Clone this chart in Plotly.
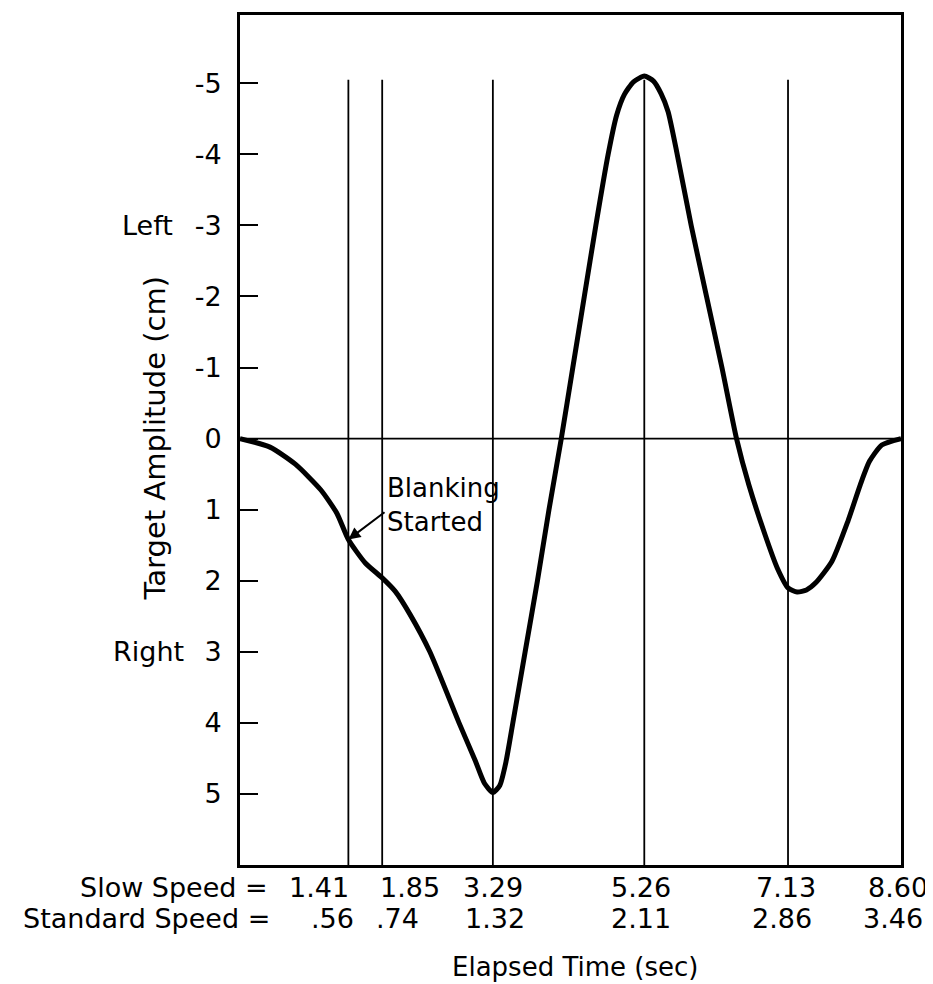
import plotly.graph_objects as go

# ---- data ----
time_s = [0, 0.39, 0.72, 1.05, 1.26, 1.41, 1.63, 1.85, 2.02, 2.21, 2.47, 2.85, 3.06, 3.18, 3.29,
          3.38, 3.46, 3.55, 3.71, 3.87, 4.02, 4.18, 4.33, 4.48, 4.63, 4.79, 4.90, 5.00,
          5.12, 5.26, 5.38, 5.48, 5.57, 5.67, 5.87, 6.07, 6.27, 6.46, 6.62, 6.83, 6.99, 7.13,
          7.25, 7.37, 7.49, 7.70, 7.91, 8.07, 8.19, 8.35, 8.60]
amp_cm = [0, 0.12, 0.36, 0.72, 1.05, 1.42, 1.75, 1.96, 2.15, 2.47, 3.0, 4.0, 4.53, 4.85, 4.98,
          4.88, 4.55, 4.0, 3.0, 2.0, 1.0, 0, -1, -2, -3, -4, -4.55, -4.84,
          -5.02, -5.1, -5.03, -4.85, -4.6, -4.1, -3.0, -2.0, -1.0, 0, 0.65, 1.35, 1.82, 2.1,
          2.16, 2.13, 2.03, 1.73, 1.16, 0.65, 0.32, 0.09, 0]

slow_speed = [1.41, 1.85, 3.29, 5.26, 7.13, 8.60]
slow_labels = ["1.41", "1.85", "3.29", "5.26", "7.13", "8.60"]
standard_labels = [".56", ".74", "1.32", "2.11", "2.86", "3.46"]
y_tick_vals = [-5, -4, -3, -2, -1, 0, 1, 2, 3, 4, 5]
y_tick_text = ["-5", "-4", "-3", "-2", "-1", "0", "1", "2", "3", "4", "5"]
blank_time, blank_amp = 1.41, 1.42

FONT = "DejaVu Sans"
FS = 27

fig = go.Figure()
fig.add_trace(go.Scatter(x=time_s, y=amp_cm, mode="lines",
                         line=dict(color="black", width=5, shape="spline", smoothing=0.6),
                         showlegend=False, hoverinfo="skip"))

for v in slow_speed[:-1]:
    fig.add_shape(type="line", xref="x", yref="y", x0=v, x1=v, y0=-5.05, y1=6.0,
                  line=dict(color="black", width=1.8))
fig.add_shape(type="line", xref="x", yref="y", x0=0, x1=8.6, y0=0, y1=0,
              line=dict(color="black", width=1.6))

def tfont(size=FS):
    return dict(size=size, family=FONT, color="black")

ann = []
ann.append(dict(text="Target Amplitude (cm)", textangle=-90, xref="paper", yref="y", x=0, y=0,
                xanchor="center", yanchor="middle", xshift=-85, showarrow=False,
                font=tfont(29)))
ann.append(dict(text="Left", xref="paper", yref="y", x=0, y=-3, xanchor="center",
                yanchor="middle", xshift=-93, showarrow=False, font=tfont()))
ann.append(dict(text="Right", xref="paper", yref="y", x=0, y=3, xanchor="center",
                yanchor="middle", xshift=-92, showarrow=False, font=tfont()))
ann.append(dict(text="Blanking<br>Started", xref="x", yref="y", x=1.85, y=0.94,
                xanchor="left", yanchor="middle", align="left", xshift=3, showarrow=False,
                font=tfont(26)))
ann.append(dict(text="", xref="x", yref="y", x=blank_time, y=blank_amp,
                axref="x", ayref="y", ax=1.9, ay=1.02, showarrow=True,
                arrowhead=2, arrowsize=1.2, arrowwidth=2, arrowcolor="black"))
# bottom rows
ann.append(dict(text="Slow Speed =", xref="paper", yref="paper", x=0, y=0, xanchor="right",
                yanchor="middle", xshift=30, yshift=-22, showarrow=False, font=tfont()))
ann.append(dict(text="Standard Speed =", xref="paper", yref="paper", x=0, y=0, xanchor="right",
                yanchor="middle", xshift=32, yshift=-53, showarrow=False, font=tfont()))
anchors1 = ["right", "left", "center", "center", "center", "center"]
shifts1 = [3, -4, 0, -3, -2, -3]
anchors2 = ["right", "left", "center", "center", "center", "center"]
shifts2 = [8, -8, 2, -3, -6, -8]
for i, v in enumerate(slow_speed):
    ann.append(dict(text=slow_labels[i], xref="x", yref="paper", x=v, y=0,
                    xanchor=anchors1[i], yanchor="middle", xshift=shifts1[i], yshift=-22,
                    showarrow=False, font=tfont()))
    ann.append(dict(text=standard_labels[i], xref="x", yref="paper", x=v, y=0,
                    xanchor=anchors2[i], yanchor="middle", xshift=shifts2[i], yshift=-53,
                    showarrow=False, font=tfont()))
ann.append(dict(text="Elapsed Time (sec)", xref="paper", yref="paper", x=0.5, y=0,
                xanchor="center", yanchor="middle", xshift=4, yshift=-102, showarrow=False,
                font=tfont(26)))

# the page body adds an 8px margin, so the figure is sized to fit inside the window
fig.update_layout(
    width=925, height=976,
    margin=dict(l=232, r=32, t=4, b=119),
    paper_bgcolor="white", plot_bgcolor="white",
    showlegend=False,
    annotations=ann,
    xaxis=dict(range=[0, 8.6], showticklabels=False, ticks="", showgrid=False, zeroline=False,
               showline=True, linewidth=3, linecolor="black", mirror=True),
    yaxis=dict(range=[6.0, -5.96], tickvals=y_tick_vals, ticktext=y_tick_text,
               ticks="inside", ticklen=18, tickwidth=2, tickcolor="black",
               ticklabelstandoff=10, tickfont=tfont(),
               showgrid=False, zeroline=False, showline=True, linewidth=3,
               linecolor="black", mirror=True),
)

fig.write_html("out.html")
